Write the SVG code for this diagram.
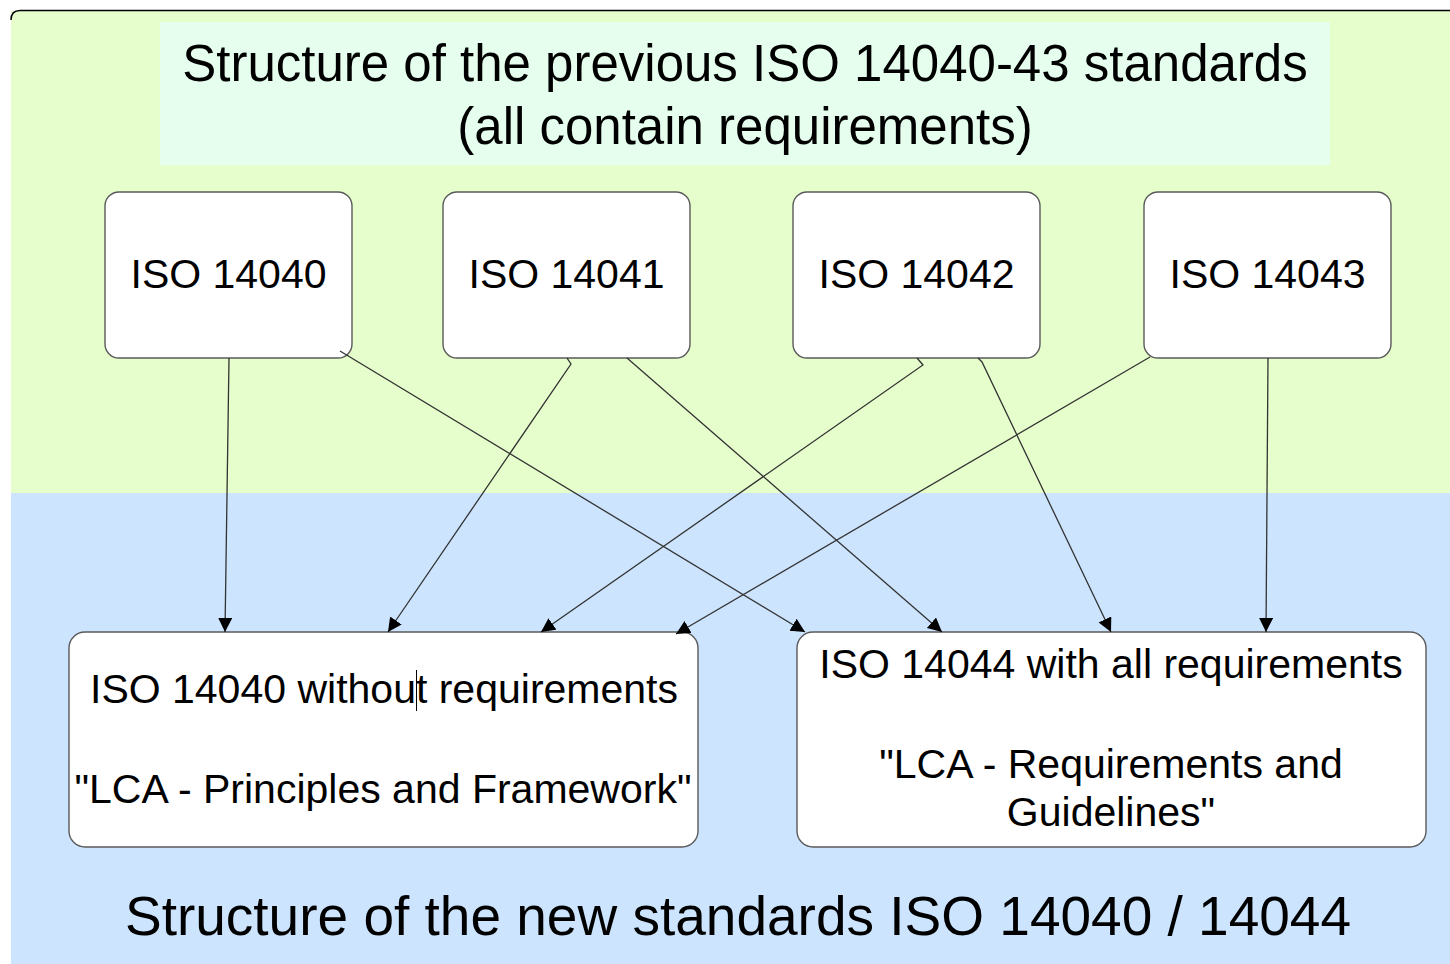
<svg xmlns="http://www.w3.org/2000/svg" width="1450" height="964" viewBox="0 0 1450 964">
  <style>
    .box { fill: #ffffff; stroke: #5a5a5a; stroke-width: 1.4; }
    .lbl { font-family: "Liberation Sans", Arial, sans-serif; fill: #000000; text-anchor: middle; }
    .node-lbl { font-size: 41px; }
    .title { font-size: 51px; }
    .subtitle { font-size: 55px; }
    .conn { fill: none; stroke: #333333; stroke-width: 1.3; marker-end: url(#arrow); }
  </style>
  <defs>
    <marker id="arrow" markerUnits="userSpaceOnUse" markerWidth="16" markerHeight="16" refX="14" refY="7" orient="auto">
      <path d="M0,0 L14,7 L0,14 Z" fill="#000000"/>
    </marker>
  </defs>

  <!-- page background -->
  <rect x="0" y="0" width="1450" height="964" fill="#ffffff"/>
  <rect x="11" y="11" width="1439" height="483" fill="#e5fecc"/>
  <rect x="11" y="493" width="1439" height="471" fill="#cce4fe"/>
  <path d="M11,20 Q11,10.5 20,10.5 H1450" fill="none" stroke="#000000" stroke-width="1.5"/>

  <!-- heading of the upper band -->
  <g id="heading-previous">
    <rect x="160" y="22" width="1170" height="143" fill="#e6feee"/>
    <text class="lbl title" x="745" y="81">Structure of the previous ISO 14040-43 standards</text>
    <text class="lbl title" x="745" y="144">(all contain requirements)</text>
  </g>

  <!-- previous standards -->
  <g id="iso14040">
    <rect class="box" x="105" y="192" width="247" height="166" rx="14"/>
    <text class="lbl node-lbl" x="228.5" y="288">ISO 14040</text>
  </g>
  <g id="iso14041">
    <rect class="box" x="443" y="192" width="247" height="166" rx="14"/>
    <text class="lbl node-lbl" x="566.5" y="288">ISO 14041</text>
  </g>
  <g id="iso14042">
    <rect class="box" x="793" y="192" width="247" height="166" rx="14"/>
    <text class="lbl node-lbl" x="916.5" y="288">ISO 14042</text>
  </g>
  <g id="iso14043">
    <rect class="box" x="1144" y="192" width="247" height="166" rx="14"/>
    <text class="lbl node-lbl" x="1267.5" y="288">ISO 14043</text>
  </g>

  <!-- new standards -->
  <g id="iso14040-new">
    <rect class="box" x="69" y="632" width="629" height="215" rx="16"/>
    <text class="lbl node-lbl" x="384" y="703">ISO 14040 without requirements</text>
    <line x1="416.5" y1="670" x2="416.5" y2="711" stroke="#000000" stroke-width="1"/>
    <text class="lbl node-lbl" x="383" y="803">"LCA - Principles and Framework"</text>
  </g>
  <g id="iso14044-new">
    <rect class="box" x="797" y="632" width="629" height="215" rx="16"/>
    <text class="lbl node-lbl" x="1111" y="678">ISO 14044 with all requirements</text>
    <text class="lbl node-lbl" x="1111" y="778">"LCA - Requirements and</text>
    <text class="lbl node-lbl" x="1111" y="826">Guidelines"</text>
  </g>

  <!-- connectors -->
  <g id="connectors">
    <path class="conn" d="M229,358 L225,632"/>
    <path class="conn" d="M340,351 L805,632"/>
    <path class="conn" d="M567,358 L571,364 L388,632"/>
    <path class="conn" d="M627,358 L942,632"/>
    <path class="conn" d="M917,358 L923,365 L541,632"/>
    <path class="conn" d="M978,358 L982,362 L1111,632"/>
    <path class="conn" d="M1150,357 L676,634"/>
    <path class="conn" d="M1268,358 L1266,632"/>
  </g>

  <!-- heading of the lower band -->
  <g id="heading-new">
    <text class="lbl subtitle" x="738" y="935">Structure of the new standards ISO 14040 / 14044</text>
  </g>
</svg>
